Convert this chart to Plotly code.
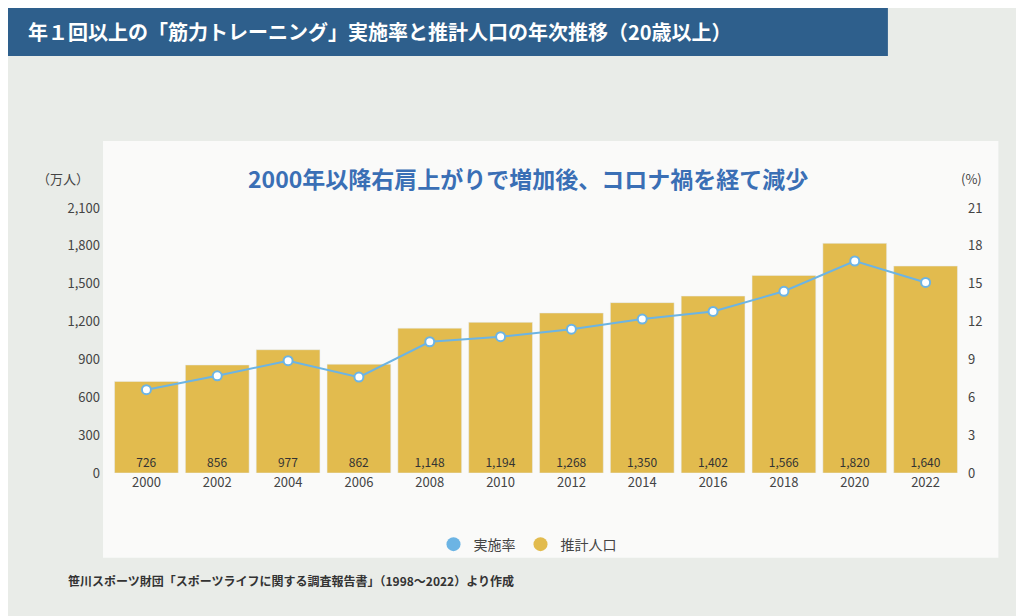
import plotly.graph_objects as go

years = ["2000","2002","2004","2006","2008","2010","2012","2014","2016","2018","2020","2022"]
population = [726,856,977,862,1148,1194,1268,1350,1402,1566,1820,1640]
rate = [6.6,7.7,8.9,7.6,10.4,10.8,11.4,12.2,12.8,14.4,16.8,15.1]
left_ticks = [0,300,600,900,1200,1500,1800,2100]
right_ticks = [0,3,6,9,12,15,18,21]

BAR = "#e2bb4e"; LINE = "#6cb4e4"; FONT = "Noto Sans CJK JP"

fig = go.Figure()
fig.add_bar(x=years, y=population, marker_color=BAR, width=0.9,
            text=[f"{v:,}" for v in population], textposition="inside",
            insidetextanchor="start", textfont=dict(color="#333", size=12),
            showlegend=False, hoverinfo="skip")
fig.add_scatter(x=years, y=rate, yaxis="y2", mode="lines+markers",
                line=dict(color=LINE, width=2),
                marker=dict(size=9, color="white", line=dict(color=LINE, width=2)),
                showlegend=False)
fig.add_scatter(x=[None], y=[None], mode="markers", name="実施率",
                marker=dict(size=14, color=LINE))
fig.add_scatter(x=[None], y=[None], mode="markers", name="推計人口",
                marker=dict(size=14, color=BAR))

fig.update_layout(
    width=1024, height=616, margin=dict(l=103, r=71, t=200, b=151, autoexpand=False),
    paper_bgcolor="#e9ece8", plot_bgcolor="rgba(0,0,0,0)",
    font=dict(family=FONT, color="#444", size=13),
    xaxis=dict(showgrid=False, tickfont=dict(size=13), ticks="", range=[-0.5, 11.5],
               automargin=False),
    yaxis=dict(range=[0,2100], tickvals=left_ticks, tickformat=",", showgrid=False,
               zeroline=False, automargin=False, ticklabelstandoff=10),
    yaxis2=dict(range=[0,21], tickvals=right_ticks, overlaying="y", side="right",
                showgrid=False, zeroline=False, automargin=False, ticklabelstandoff=6),
    legend=dict(orientation="h", x=0.49, xanchor="center", y=-0.27, yanchor="middle",
                font=dict(size=14), bgcolor="rgba(0,0,0,0)"),
    shapes=[
        dict(type="rect", xref="paper", yref="paper", x0=-0.0094, x1=1.044, y0=-0.32, y1=1.253,
             fillcolor="rgba(255,255,255,0.75)", line_width=0, layer="below"),
        dict(type="rect", xref="paper", yref="paper", x0=-0.125, x1=0.914, y0=1.574, y1=1.76,
             fillcolor="#2e5f8c", line_width=0, layer="below"),
    ],
    annotations=[
        dict(text="<b>年１回以上の「筋力トレーニング」実施率と推計人口の年次推移（20歳以上）</b>",
             xref="paper", yref="paper", x=-0.1, y=1.665, xanchor="left", yanchor="middle",
             showarrow=False, font=dict(size=20, color="white", family=FONT)),
        dict(text="<b>2000年以降右肩上がりで増加後、コロナ禍を経て減少</b>",
             xref="paper", yref="paper", x=0.49, y=1.113, xanchor="center", yanchor="middle",
             showarrow=False, font=dict(size=23, color="#3a6fb5", family=FONT)),
        dict(text="（万人）", xref="paper", yref="paper", x=-0.057, y=1.113, xanchor="center",
             yanchor="middle", showarrow=False, font=dict(size=13)),
        dict(text="(%)", xref="paper", yref="paper", x=1.012, y=1.113, xanchor="center",
             yanchor="middle", showarrow=False, font=dict(size=13)),
        dict(text="<b>笹川スポーツ財団「スポーツライフに関する調査報告書」（1998〜2022）より作成</b>",
             xref="paper", yref="paper", x=-0.053, y=-0.406, xanchor="left", yanchor="middle",
             showarrow=False, font=dict(size=12, color="#333")),
    ],
)
fig.write_html("out.html")
